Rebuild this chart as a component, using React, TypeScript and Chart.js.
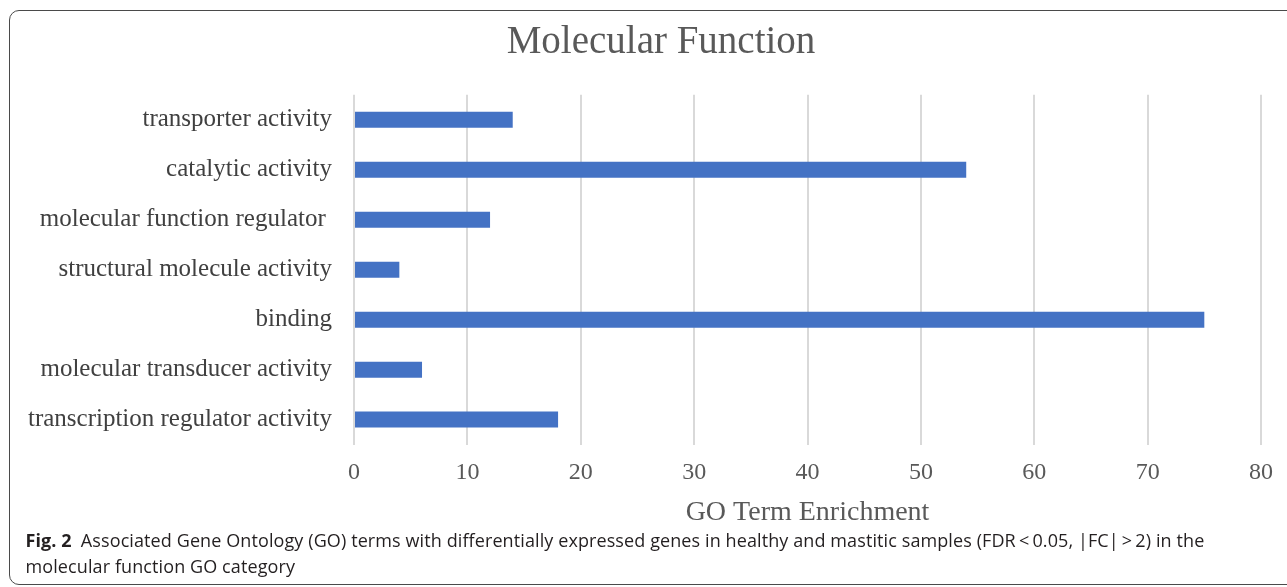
import React, { useEffect, useRef } from "react";
import { Chart, registerables } from "chart.js";

Chart.register(...registerables);

const categories = [
  "transporter activity",
  "catalytic activity",
  "molecular function regulator ",
  "structural molecule activity",
  "binding",
  "molecular transducer activity",
  "transcription regulator activity",
];
const enrichment = [14, 54, 12, 4, 75, 6, 18];
const xTicks = [0, 10, 20, 30, 40, 50, 60, 70, 80];

const SERIF = "'Liberation Serif', 'Times New Roman', serif";

const shiftTitle = {
  id: "shiftTitle",
  afterLayout(chart: any) {
    if (chart.titleBlock) chart.titleBlock.left += 46;
  },
};

export default function App() {
  const ref = useRef<HTMLCanvasElement>(null);
  useEffect(() => {
    if (!ref.current) return;
    const chart = new Chart(ref.current, {
      type: "bar",
      data: {
        labels: categories,
        datasets: [
          {
            data: enrichment,
            backgroundColor: "#4472C4",
            barPercentage: 0.32,
            categoryPercentage: 1,
          },
        ],
      },
      plugins: [shiftTitle],
      options: {
        indexAxis: "y",
        animation: false,
        responsive: false,
        maintainAspectRatio: false,
        layout: { padding: { left: 0, right: 20, top: 0, bottom: 0 } },
        plugins: {
          legend: { display: false },
          tooltip: { enabled: false },
          title: {
            display: true,
            text: "Molecular Function",
            color: "#595959",
            font: { family: SERIF, size: 39, weight: "normal" },
            padding: { top: 9, bottom: 29 },
          },
        },
        scales: {
          x: {
            min: 0,
            max: 80,
            afterBuildTicks: (s: any) => {
              s.ticks = xTicks.map((v) => ({ value: v }));
            },
            grid: { color: "#d9d9d9", lineWidth: 2, drawTicks: false },
            border: { display: false },
            ticks: {
              color: "#595959",
              font: { family: SERIF, size: 24 },
              padding: 14,
            },
            title: {
              display: true,
              text: "GO Term Enrichment",
              color: "#595959",
              font: { family: SERIF, size: 28 },
              padding: { top: -6, bottom: 1 },
            },
          },
          y: {
            grid: { display: false, drawTicks: false },
            border: { display: false },
            ticks: {
              color: "#404040",
              font: { family: SERIF, size: 25 },
              padding: 22,
            },
            afterFit: (s: any) => {
              s.width = 345;
            },
          },
        },
      },
    } as any);
    return () => chart.destroy();
  }, []);

  return (
    <div
      style={{
        position: "absolute",
        left: 9,
        top: 10,
        width: 1290,
        height: 575,
        border: "1.5px solid #4a4a4a",
        borderRadius: 10,
        boxSizing: "border-box",
        overflow: "hidden",
      }}
    >
      <canvas
        ref={ref}
        width={1278}
        height={520}
        style={{ position: "absolute", left: -1.5, top: -1.5, width: 1278, height: 520 }}
      />
      <div
        style={{
          position: "absolute",
          left: 15.5,
          top: 515.5,
          width: 1260,
          whiteSpace: "nowrap",
          fontFamily: "'Open Sans', 'Noto Sans', sans-serif",
          fontSize: 18,
          lineHeight: "26px",
          color: "#231f20",
          letterSpacing: 0.1,
        }}
      >
        <span style={{ fontWeight: 700 }}>Fig. 2</span>
        {"\u2002"}Associated Gene Ontology (GO) terms with differentially expressed genes in healthy and mastitic samples (FDR{"\u2009<\u2009"}0.05, |FC|{"\u2009>\u2009"}2) in the
        <br />
        molecular function GO category
      </div>
    </div>
  );
}
